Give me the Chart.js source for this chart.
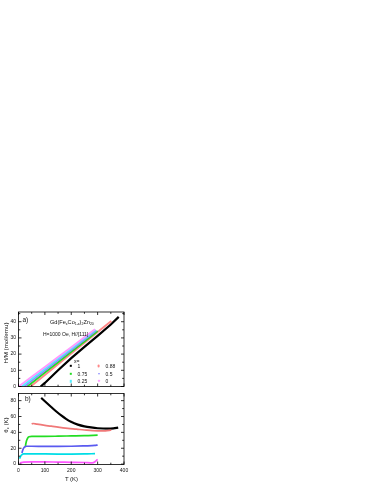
<!DOCTYPE html>
<html><head><meta charset="utf-8">
<script src="https://cdn.jsdelivr.net/npm/chart.js@4.4.1/dist/chart.umd.min.js"></script>
<style>
html,body{margin:0;padding:0;background:#fff;width:374px;height:484px;overflow:hidden;font-family:"Liberation Sans",Arial,sans-serif;}
#wrap{position:relative;width:374px;height:484px;}
canvas{position:absolute;left:0;top:0;}
.t{position:absolute;white-space:nowrap;color:#111;line-height:1;transform:translateY(-50%);}
.r{position:absolute;white-space:nowrap;color:#111;line-height:1;transform:translate(-50%,-50%) rotate(-90deg);}
.s{font-size:0.62em;position:relative;top:0.35em;}
.m{position:absolute;transform:translate(-50%,-50%);}
</style></head><body>
<div id="wrap">
<div style="position:absolute;left:0;top:300px;width:135px;height:92px"><canvas id="top" width="135" height="92"></canvas></div>
<div style="position:absolute;left:0;top:388px;width:135px;height:96px"><canvas id="bot" width="135" height="96"></canvas></div>
<div class="t" style="left:22.5px;top:320px;font-size:6.5px">a)</div>
<div class="t" style="left:50px;top:322.5px;font-size:5.6px">Gd(Fe<span class="s">x</span>Co<span class="s">1-x</span>)<span class="s">2</span>Zn<span class="s">20</span></div>
<div class="t" style="left:43px;top:333.5px;font-size:5px">H=1000 Oe, H//[111]</div>
<div class="t" style="left:25px;top:398.5px;font-size:6.5px">b)</div>
<div class="r" style="left:6px;top:343px;font-size:6.2px">H/M (mol/emu)</div>
<div class="r" style="left:6px;top:425px;font-size:6.2px">θ<span class="s">c</span> (K)</div>
<div class="t" style="left:71.5px;top:479px;font-size:6px;transform:translate(-50%,-50%)">T (K)</div>
<div id="legend"></div>
</div>
<script>
// ---------- data ----------
const seriesLabels = ['1', '0.88', '0.75', '0.5', '0.25', '0'];
const topColors = ['#000000', '#ff8888', '#22dd22', '#8c8cff', '#55eeff', '#ff99ff'];
const botColors = ['#000000', '#f07878', '#22dd22', '#5a5af0', '#00dde6', '#ff55ff'];
const markerShapes = ['square', 'circle', 'square', 'tri', 'square', 'diamond'];

const xTicks = [0, 100, 200, 300, 400];
const yTopTicks = [0, 10, 20, 30, 40];
const yBotTicks = [0, 20, 40, 60, 80];

// panel a) H/M vs T
const hmT_1    = [84, 100, 150, 200, 250, 300, 350, 380];
const hm_1     = [0, 2.2, 10, 17.5, 24.5, 31.3, 38.3, 43];
const hmT_088  = [46, 100, 150, 200, 250, 300, 352];
const hm_088   = [0, 7.1, 13.8, 20.4, 27.0, 33.6, 40.5];
const hmT_075  = [33, 50, 100, 150, 200, 250, 300];
const hm_075   = [0, 2.2, 8.6, 15.0, 21.4, 27.8, 34.2];
const hmT_05   = [22, 50, 100, 150, 200, 250, 295];
const hm_05    = [0, 3.5, 9.9, 16.2, 22.6, 28.9, 34.6];
const hmT_025  = [12, 50, 100, 150, 200, 250, 292];
const hm_025   = [0, 4.75, 11.0, 17.25, 23.5, 29.75, 35];
const hmT_0    = [1, 50, 100, 150, 200, 250, 290];
const hm_0     = [0, 6.0, 12.1, 18.2, 24.3, 30.4, 35.3];

// panel b) theta_c vs T
const thT_1    = [86, 100, 124, 140, 162, 180, 199, 225, 250, 275, 300, 338, 360, 378];
const th_1     = [83.5, 79.2, 72, 67.3, 61.3, 57, 53.3, 49.8, 47.6, 46.2, 45.2, 44.6, 45, 46];
const thT_088  = [50, 55, 70, 100, 124, 150, 187, 220, 250, 300, 330, 352];
const th_088   = [50.5, 51.2, 50.3, 48.8, 47.8, 46.5, 45, 44, 43, 42, 42, 43];
const thT_075  = [26, 28, 31, 35, 40, 50, 100, 150, 200, 250, 300];
const th_075   = [22, 26, 30, 33, 34.5, 35, 35, 35.2, 35.5, 35.8, 36.5];
const thT_05   = [13, 16, 20, 25, 30, 50, 100, 150, 200, 250, 290, 300];
const th_05    = [14, 17.5, 20.5, 22, 22.5, 22.5, 22.3, 22.3, 22.5, 23, 23.5, 24];
const thT_025  = [4, 7, 10, 15, 20, 50, 100, 150, 200, 250, 290];
const th_025   = [7, 9, 11, 12.5, 12.8, 13, 12.8, 12.7, 12.7, 12.8, 13.2];
const thT_0    = [5, 20, 50, 100, 150, 200, 250, 280, 290, 300];
const th_0     = [1.5, 2.5, 2.8, 2.8, 2.5, 2.3, 2.0, 1.5, 3, 6];

const hmTs = [hmT_1, hmT_088, hmT_075, hmT_05, hmT_025, hmT_0];
const hmVs = [hm_1, hm_088, hm_075, hm_05, hm_025, hm_0];
const thTs = [thT_1, thT_088, thT_075, thT_05, thT_025, thT_0];
const thVs = [th_1, th_088, th_075, th_05, th_025, th_0];

const FONT = '"Liberation Sans", Arial, sans-serif';

function pts(ts, vs){ return ts.map((t,i)=>({x:t, y:vs[i]})); }

// draw order: pastel first, black last
const order = [5, 4, 3, 2, 1, 0];
const topDatasets = order.map(i => ({
  label: seriesLabels[i], data: pts(hmTs[i], hmVs[i]),
  borderColor: topColors[i], borderWidth: i === 0 ? 2.2 : 1.9,
  pointRadius: 0, fill: false, tension: 0
}));
const botDatasets = order.map(i => ({
  label: seriesLabels[i], data: pts(thTs[i], thVs[i]),
  borderColor: botColors[i], borderWidth: i === 0 ? 2.2 : 1.7,
  pointRadius: 0, fill: false, cubicInterpolationMode: 'monotone'
}));

const framePlugin = {
  id: 'frame',
  afterDraw(chart, args, o){
    const {ctx, chartArea: a, scales} = chart;
    const xs = scales.x, ys = scales.y;
    ctx.save();
    ctx.strokeStyle = '#000'; ctx.lineWidth = 0.8;
    ctx.strokeRect(a.left, a.top, a.right - a.left, a.bottom - a.top);
    ctx.beginPath();
    const xm = o.xMajor, ym = o.yMajor;
    const xStep = xm[1] - xm[0], yStep = ym[1] - ym[0];
    for (let v = xm[0]; v <= xs.max + 1e-9; v += xStep / 2) {
      const len = (Math.abs((v - xm[0]) % xStep) < 1e-6) ? 3 : 1.8;
      const px = xs.getPixelForValue(v);
      ctx.moveTo(px, a.bottom); ctx.lineTo(px, a.bottom - len);
      ctx.moveTo(px, a.top); ctx.lineTo(px, a.top + len);
    }
    for (let v = ym[0]; v <= ys.max + 1e-9; v += yStep / 2) {
      const len = (Math.abs((v - ym[0]) % yStep) < 1e-6) ? 3 : 1.8;
      const py = ys.getPixelForValue(v);
      ctx.moveTo(a.left, py); ctx.lineTo(a.left + len, py);
      ctx.moveTo(a.right, py); ctx.lineTo(a.right - len, py);
    }
    ctx.stroke();
    ctx.restore();
  }
};

function setTicks(arr){ return s => { s.ticks = arr.map(v => ({value: v})); }; }

new Chart(document.getElementById('top'), {
  type: 'line',
  data: {datasets: topDatasets},
  options: {
    responsive: false, animation: false, devicePixelRatio: 1,
    layout: {padding: {top: 12, right: 11, left: 0, bottom: 0}},
    plugins: {legend: {display: false}, tooltip: {enabled: false},
      frame: {xMajor: xTicks, yMajor: yTopTicks}},
    scales: {
      x: {type: 'linear', min: 0, max: 400, afterBuildTicks: setTicks(xTicks),
        ticks: {display: false}, grid: {display: false, drawTicks: false}, border: {display: false},
        afterFit: s => { s.height = 2.5; }},
      y: {type: 'linear', min: 0, max: 46, afterBuildTicks: setTicks(yTopTicks),
        ticks: {font: {size: 5, family: FONT}, color: '#111', padding: 2.5},
        grid: {display: false, drawTicks: false}, border: {display: false},
        afterFit: s => { s.width = 18.5; }}
    }
  },
  plugins: [framePlugin]
});

new Chart(document.getElementById('bot'), {
  type: 'line',
  data: {datasets: botDatasets},
  options: {
    responsive: false, animation: false, devicePixelRatio: 1,
    layout: {padding: {top: 1.5, right: 11, left: 0, bottom: 0}},
    plugins: {legend: {display: false}, tooltip: {enabled: false},
      frame: {xMajor: xTicks, yMajor: yBotTicks}},
    scales: {
      x: {type: 'linear', min: 0, max: 400, afterBuildTicks: setTicks(xTicks),
        ticks: {font: {size: 5, family: FONT}, color: '#111', padding: 3, maxRotation: 0},
        grid: {display: false, drawTicks: false}, border: {display: false},
        afterFit: s => { s.height = 19.5; }},
      y: {type: 'linear', min: -0.5, max: 89, afterBuildTicks: setTicks(yBotTicks),
        ticks: {font: {size: 5, family: FONT}, color: '#111', padding: 2.5},
        grid: {display: false, drawTicks: false}, border: {display: false},
        afterFit: s => { s.width = 18.5; }}
    }
  },
  plugins: [framePlugin]
});

// legend (inside panel a)
const legendPos = [
  {mx: 70.5, tx: 77.5, y: 366}, {mx: 98.5, tx: 105.5, y: 366},
  {mx: 70.5, tx: 77.5, y: 373.6}, {mx: 98.5, tx: 105.5, y: 373.6},
  {mx: 70.5, tx: 77.5, y: 381.2}, {mx: 98.5, tx: 105.5, y: 381.2}
];
const legendOrder = [0, 1, 2, 3, 4, 5];
let html = '<div class="t" style="left:74px;top:361px;font-size:5px">x=</div>';
legendOrder.forEach((i, k) => {
  const p = legendPos[k], c = topColors[i];
  let shape;
  if (markerShapes[i] === 'square') shape = `width:2.4px;height:2.4px;background:${c}`;
  else if (markerShapes[i] === 'circle') shape = `width:2.8px;height:2.8px;border-radius:50%;background:${c}`;
  else if (markerShapes[i] === 'diamond') shape = `width:2.2px;height:2.2px;background:${c};transform:translate(-50%,-50%) rotate(45deg)`;
  else shape = `width:0;height:0;border-left:1.6px solid transparent;border-right:1.6px solid transparent;border-top:2.8px solid ${c}`;
  html += `<div class="m" style="left:${p.mx}px;top:${p.y}px;${shape}"></div>`;
  html += `<div class="t" style="left:${p.tx}px;top:${p.y}px;font-size:5px">${seriesLabels[i]}</div>`;
});
document.getElementById('legend').innerHTML = html;
</script>
</body></html>
